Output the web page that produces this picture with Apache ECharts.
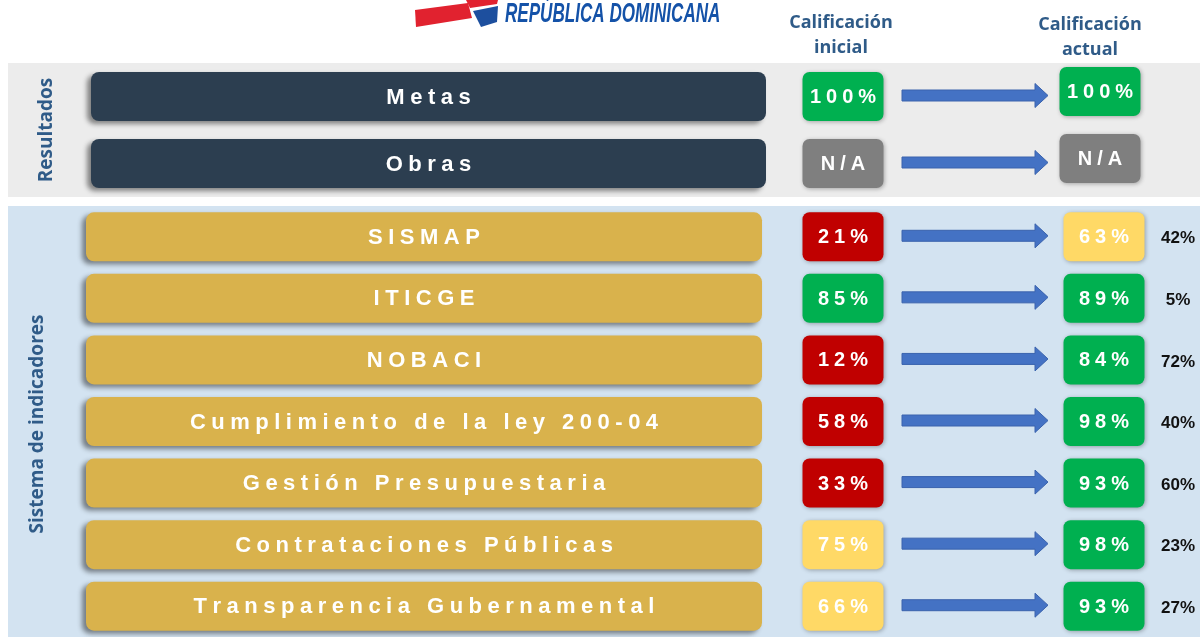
<!DOCTYPE html>
<html>
<head>
<meta charset="utf-8">
<title>Calificación inicial y actual</title>
<script src="https://cdn.jsdelivr.net/npm/echarts@6.0.0/dist/echarts.min.js"></script>
<style>
  html, body { margin: 0; padding: 0; background: #ffffff; }
  #chart { width: 1200px; height: 637px; }
</style>
</head>
<body>
<div id="chart"></div>
<script>
// rows of the "Resultados" block
var resultNames = ['Metas', 'Obras'];
var resultInitial = ['100%', 'N/A'];
var resultActual = ['100%', 'N/A'];

// rows of the "Sistema de indicadores" block
var indicatorNames = ['SISMAP', 'ITICGE', 'NOBACI', 'Cumplimiento de la ley 200-04',
    'Gestión Presupuestaria', 'Contrataciones Públicas', 'Transparencia Gubernamental'];
var initialScores = [21, 85, 12, 58, 33, 75, 66];
var actualScores = [63, 89, 84, 98, 93, 98, 93];
var changeScores = [42, 5, 72, 40, 60, 23, 27];

var headerLabels = ['Calificación\ninicial', 'Calificación\nactual'];
var sectionLabels = ['Resultados', 'Sistema de indicadores'];
var logoText = 'REPÚBLICA DOMINICANA';

var titleBlue = '#2f5b88';
var arrowBlue = '#4472c4';

function scoreColor(v) {
    if (v === 'N/A') return '#7f7f7f';
    var n = parseFloat(v);
    if (n >= 80) return '#00b050';
    if (n >= 60) return '#ffd966';
    return '#c00000';
}

// wide tracking like the original slide
function spaced(s) {
    return s.split('').join('\u2005');
}

function scoreBox(cx, yc, text) {
    return [{
        type: 'rect',
        shape: { x: cx - 40.5, y: yc - 24.5, width: 81, height: 49, r: 7 },
        style: { fill: scoreColor(text), shadowBlur: 4, shadowOffsetX: 1, shadowOffsetY: 1, shadowColor: 'rgba(0,0,0,0.3)' }
    }, {
        type: 'text',
        style: {
            x: cx, y: yc + 1, text: spaced(text), align: 'center', verticalAlign: 'middle',
            fill: '#ffffff', font: 'bold 20px "Liberation Sans", Arial, sans-serif'
        }
    }];
}

function arrow(yc) {
    return {
        type: 'polygon',
        shape: { points: [[902, yc - 5.5], [1035, yc - 5.5], [1035, yc - 12], [1048, yc],
            [1035, yc + 12], [1035, yc + 5.5], [902, yc + 5.5]] },
        style: { fill: arrowBlue, stroke: '#3a63ad', lineWidth: 1 }
    };
}

function makeRenderer(cfg) {
    return function (params, api) {
        var i = params.dataIndex;
        var yc = api.coord([0, api.value(1)])[1];
        var x0 = api.coord([cfg.barLeft, 0])[0];
        var x1 = api.coord([cfg.barRight, 0])[0];
        var children = [{
            type: 'rect',
            shape: { x: x0, y: yc - 24.5, width: x1 - x0, height: 49, r: 8 },
            style: { fill: cfg.barColor, shadowBlur: 5, shadowOffsetX: -4, shadowOffsetY: 3, shadowColor: 'rgba(0,0,0,0.45)' }
        }, {
            type: 'text',
            style: {
                x: (x0 + x1) / 2, y: yc + 1, text: spaced(cfg.names[i]), align: 'center', verticalAlign: 'middle',
                fill: '#ffffff', font: 'bold 22px "Liberation Sans", Arial, sans-serif'
            }
        }];
        children = children.concat(scoreBox(api.coord([843, 0])[0], yc, cfg.initial[i]));
        children.push(arrow(yc - 1));
        children = children.concat(scoreBox(api.coord([cfg.actualX, 0])[0], yc + cfg.actualDy, cfg.actual[i]));
        if (cfg.change) {
            children.push({
                type: 'text',
                style: {
                    x: api.coord([1178, 0])[0], y: yc + 2, text: cfg.change[i] + '%', align: 'center', verticalAlign: 'middle',
                    fill: '#111111', font: 'bold 17px "Liberation Sans", Arial, sans-serif'
                }
            });
        }
        return { type: 'group', children: children };
    };
}

var chart = echarts.init(document.getElementById('chart'));

var option = {
    animation: false,
    grid: [
        { left: 8, right: 0, top: 63, height: 134, show: true, backgroundColor: '#ececec', borderWidth: 0 },
        { left: 8, right: 0, top: 206, height: 441, show: true, backgroundColor: '#d3e3f1', borderWidth: 0 }
    ],
    xAxis: [
        { type: 'value', gridIndex: 0, min: 8, max: 1200, show: false },
        { type: 'value', gridIndex: 1, min: 8, max: 1200, show: false }
    ],
    yAxis: [
        { type: 'category', gridIndex: 0, data: resultNames, inverse: true, show: false },
        { type: 'category', gridIndex: 1, data: indicatorNames, inverse: true, show: false }
    ],
    graphic: [
        // flag swoosh of the logo
        { type: 'polygon', shape: { points: [[415, 10], [468, 3], [472, 18], [416, 27]] }, style: { fill: '#e1222f' } },
        { type: 'polygon', shape: { points: [[466, 0], [498, 0], [497, 4], [470, 8]] }, style: { fill: '#e1222f' } },
        { type: 'polygon', shape: { points: [[473, 11], [498, 6], [497, 22], [481, 27]] }, style: { fill: '#1d4f9e' } },
        {
            type: 'text', x: 505, y: 14, scaleX: 0.61,
            style: { text: logoText, fill: '#1452a8', font: 'italic bold 28px "Liberation Sans Narrow", "Liberation Sans", sans-serif', verticalAlign: 'middle' }
        },
        {
            type: 'text',
            style: { x: 841, y: 35, text: headerLabels[0], align: 'center', verticalAlign: 'middle', lineHeight: 25,
                fill: titleBlue, font: 'bold 18px "Open Sans", Lato, sans-serif' }
        },
        {
            type: 'text',
            style: { x: 1090, y: 37, text: headerLabels[1], align: 'center', verticalAlign: 'middle', lineHeight: 25,
                fill: titleBlue, font: 'bold 18px "Open Sans", Lato, sans-serif' }
        },
        {
            type: 'text', x: 47, y: 130, rotation: Math.PI / 2,
            style: { text: sectionLabels[0], align: 'center', verticalAlign: 'middle', fill: titleBlue,
                font: 'bold 19px "Open Sans", Lato, sans-serif' }
        },
        {
            type: 'text', x: 38, y: 424, rotation: Math.PI / 2,
            style: { text: sectionLabels[1], align: 'center', verticalAlign: 'middle', fill: titleBlue,
                font: 'bold 19px "Open Sans", Lato, sans-serif' }
        }
    ],
    series: [
        {
            type: 'custom',
            xAxisIndex: 0,
            yAxisIndex: 0,
            encode: { x: 0, y: 1 },
            data: resultNames.map(function (n, i) { return [8, i]; }),
            renderItem: makeRenderer({
                names: resultNames, initial: resultInitial, actual: resultActual,
                barColor: '#2c3e50', barLeft: 91, barRight: 766, actualX: 1100, actualDy: -5
            })
        },
        {
            type: 'custom',
            xAxisIndex: 1,
            yAxisIndex: 1,
            encode: { x: 0, y: 1 },
            data: indicatorNames.map(function (n, i) { return [8, i]; }),
            renderItem: makeRenderer({
                names: indicatorNames,
                initial: initialScores.map(function (v) { return v + '%'; }),
                actual: actualScores.map(function (v) { return v + '%'; }),
                change: changeScores,
                barColor: '#d9b24c', barLeft: 86, barRight: 762, actualX: 1104, actualDy: 0
            })
        }
    ]
};

chart.setOption(option);
</script>
</body>
</html>
